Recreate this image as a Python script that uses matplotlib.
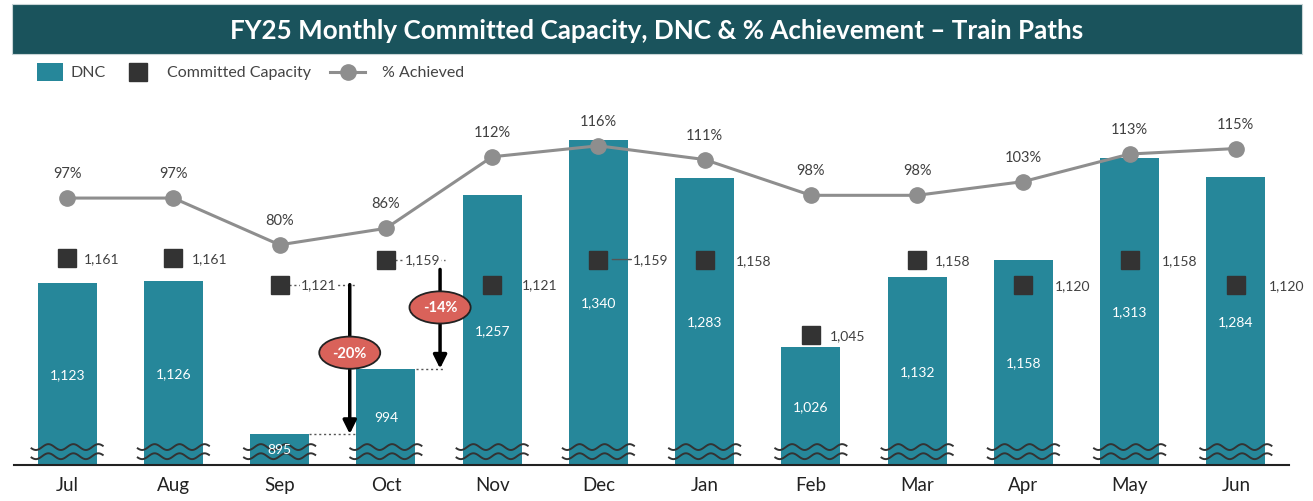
import numpy as np
import matplotlib
matplotlib.use('Agg')
import matplotlib.pyplot as plt
from matplotlib.patches import Rectangle
from matplotlib.lines import Line2D
import matplotlib.transforms as mtransforms

plt.rcParams['font.family'] = ['Lato', 'DejaVu Sans']

# data
months = ['Jul', 'Aug', 'Sep', 'Oct', 'Nov', 'Dec', 'Jan', 'Feb', 'Mar', 'Apr', 'May', 'Jun']
dnc = [1123, 1126, 895, 994, 1257, 1340, 1283, 1026, 1132, 1158, 1313, 1284]
committed = [1161, 1161, 1121, 1159, 1121, 1159, 1158, 1045, 1158, 1120, 1158, 1120]
achieved = [97, 97, 80, 86, 112, 116, 111, 98, 98, 103, 113, 115]
shortfall_months = ['Sep', 'Oct']

# label offsets (pixels, right of the square)
commit_label_dx = [17, 18, 21, 19, 30, 34, 31, 19, 18, 31, 32, 33]

TEAL = '#26879a'
DARK = '#333333'
GREY = '#8e8e8e'
TXT = '#404040'
W, H = 1313, 502

fig = plt.figure(figsize=(W / 100, H / 100), dpi=100)

# title banner
fig.patches.append(Rectangle((12 / W, 1 - 55 / H), 1290 / W, 50 / H,
                             transform=fig.transFigure, facecolor='#1a535c',
                             edgecolor='#c8d4d6', lw=0.8, zorder=0))
fig.text(0.5, 1 - 31 / H, 'FY25 Monthly Committed Capacity, DNC & % Achievement \u2013 Train Paths',
         ha='center', va='center', color='white', fontsize=18.7, fontweight='bold')

# legend, drawn by hand
ly = 1 - 73 / H
fig.patches.append(Rectangle((37 / W, ly - 9 / H), 26 / W, 18 / H, transform=fig.transFigure,
                             facecolor=TEAL, edgecolor='none'))
fig.text(71 / W, ly, 'DNC', va='center', fontsize=11.5, color='#444444')
fig.add_artist(Line2D([138 / W], [ly], marker='s', ms=13, color=DARK, transform=fig.transFigure))
fig.text(167 / W, ly, 'Committed Capacity', va='center', fontsize=11.5, color='#444444')
fig.add_artist(Line2D([330 / W, 365 / W], [ly, ly], color=GREY, lw=2.2, transform=fig.transFigure))
fig.add_artist(Line2D([347.5 / W], [ly], marker='o', ms=11, color=GREY, transform=fig.transFigure))
fig.text(382 / W, ly, '% Achieved', va='center', fontsize=11.5, color='#444444')

ax = fig.add_axes([14 / W, 36 / H, 1275 / W, 366 / H])
ymin, ymax = 848, 1402
x = np.arange(len(months))

ax.bar(x, [v - ymin for v in dnc], bottom=ymin, width=0.555, color=TEAL, zorder=2)
ax.set_ylim(ymin, ymax)
ax.set_xlim(-0.5, len(months) - 0.5)

for xi, v in zip(x, dnc):
    ax.text(xi, (ymin + v) / 2, f'{v:,}', ha='center', va='center', color='white', fontsize=10, zorder=5)

ax.plot(x, committed, 's', color=DARK, ms=12.5, zorder=4)
for xi, v, dx, m in zip(x, committed, commit_label_dx, months):
    ax.annotate(f'{v:,}', (xi, v), xytext=(dx, 0), textcoords='offset pixels',
                ha='left', va='center', fontsize=10, color=TXT, zorder=6,
                bbox=dict(facecolor='white', edgecolor='none', pad=0.5) if m in shortfall_months else None)
    if m == 'Dec':
        ax.annotate('', (xi, v), xytext=(dx - 1, 0), textcoords='offset pixels',
                    arrowprops=dict(arrowstyle='-', color='#555555', lw=1, shrinkA=0, shrinkB=10))

# shortfall arrows for Sep / Oct
arrow_dx = {'Sep': 0.66, 'Oct': 0.51}
for m in shortfall_months:
    i = months.index(m)
    c, d = committed[i], dnc[i]
    xa = i + arrow_dx[m]
    ax.plot([i + 0.09, xa + 0.05], [c, c], ls=(0, (1.5, 2)), color='#555555', lw=1, zorder=3)
    ax.plot([i + 0.28, xa + 0.05], [d, d], ls=(0, (1.5, 2)), color='#555555', lw=1, zorder=3)
    top = c if m == 'Sep' else c - 15
    ax.annotate('', (xa, d), xytext=(xa, top),
                arrowprops=dict(arrowstyle='-|>', color='black', lw=2.5, mutation_scale=20,
                                shrinkA=0, shrinkB=0), zorder=5)
    ax.text(xa, (c + d) / 2 + 10, f'{d / c - 1:.0%}', ha='center', va='center', color='white',
            fontsize=10.5, fontweight='bold', zorder=7,
            bbox=dict(boxstyle='ellipse,pad=0.3', facecolor='#d9625a', edgecolor='#222222', lw=1.3))

# axis-break waves
trans = mtransforms.blended_transform_factory(ax.transData, ax.transAxes)
for xi in x:
    xs = np.linspace(xi - 0.335, xi + 0.335, 80)
    for y0 in (0.049, 0.024):
        ax.plot(xs, y0 + 0.008 * np.sin((xs - xi) / 0.235 * 2 * np.pi), color='#333333',
                lw=1.4, transform=trans, zorder=4, clip_on=False)

for s in ['top', 'right', 'left']:
    ax.spines[s].set_visible(False)
ax.spines['bottom'].set_color('#222222')
ax.spines['bottom'].set_linewidth(1.5)
ax.set_yticks([])
ax.set_xticks(x)
ax.set_xticklabels(months, fontsize=13.5, color='#222222')
ax.tick_params(axis='x', length=0, pad=8)

ax2 = ax.twinx()
ax2.set_ylim(0, 133)
ax2.plot(x, achieved, '-o', color=GREY, lw=2.2, ms=11, zorder=3)
for xi, p in zip(x, achieved):
    ax2.annotate(f'{p}%', (xi, p), xytext=(0, 25), textcoords='offset pixels',
                 ha='center', va='center', fontsize=10.5, color=TXT)
ax2.set_yticks([])
for s in ax2.spines.values():
    s.set_visible(False)

fig.savefig('out.png', dpi=100)
